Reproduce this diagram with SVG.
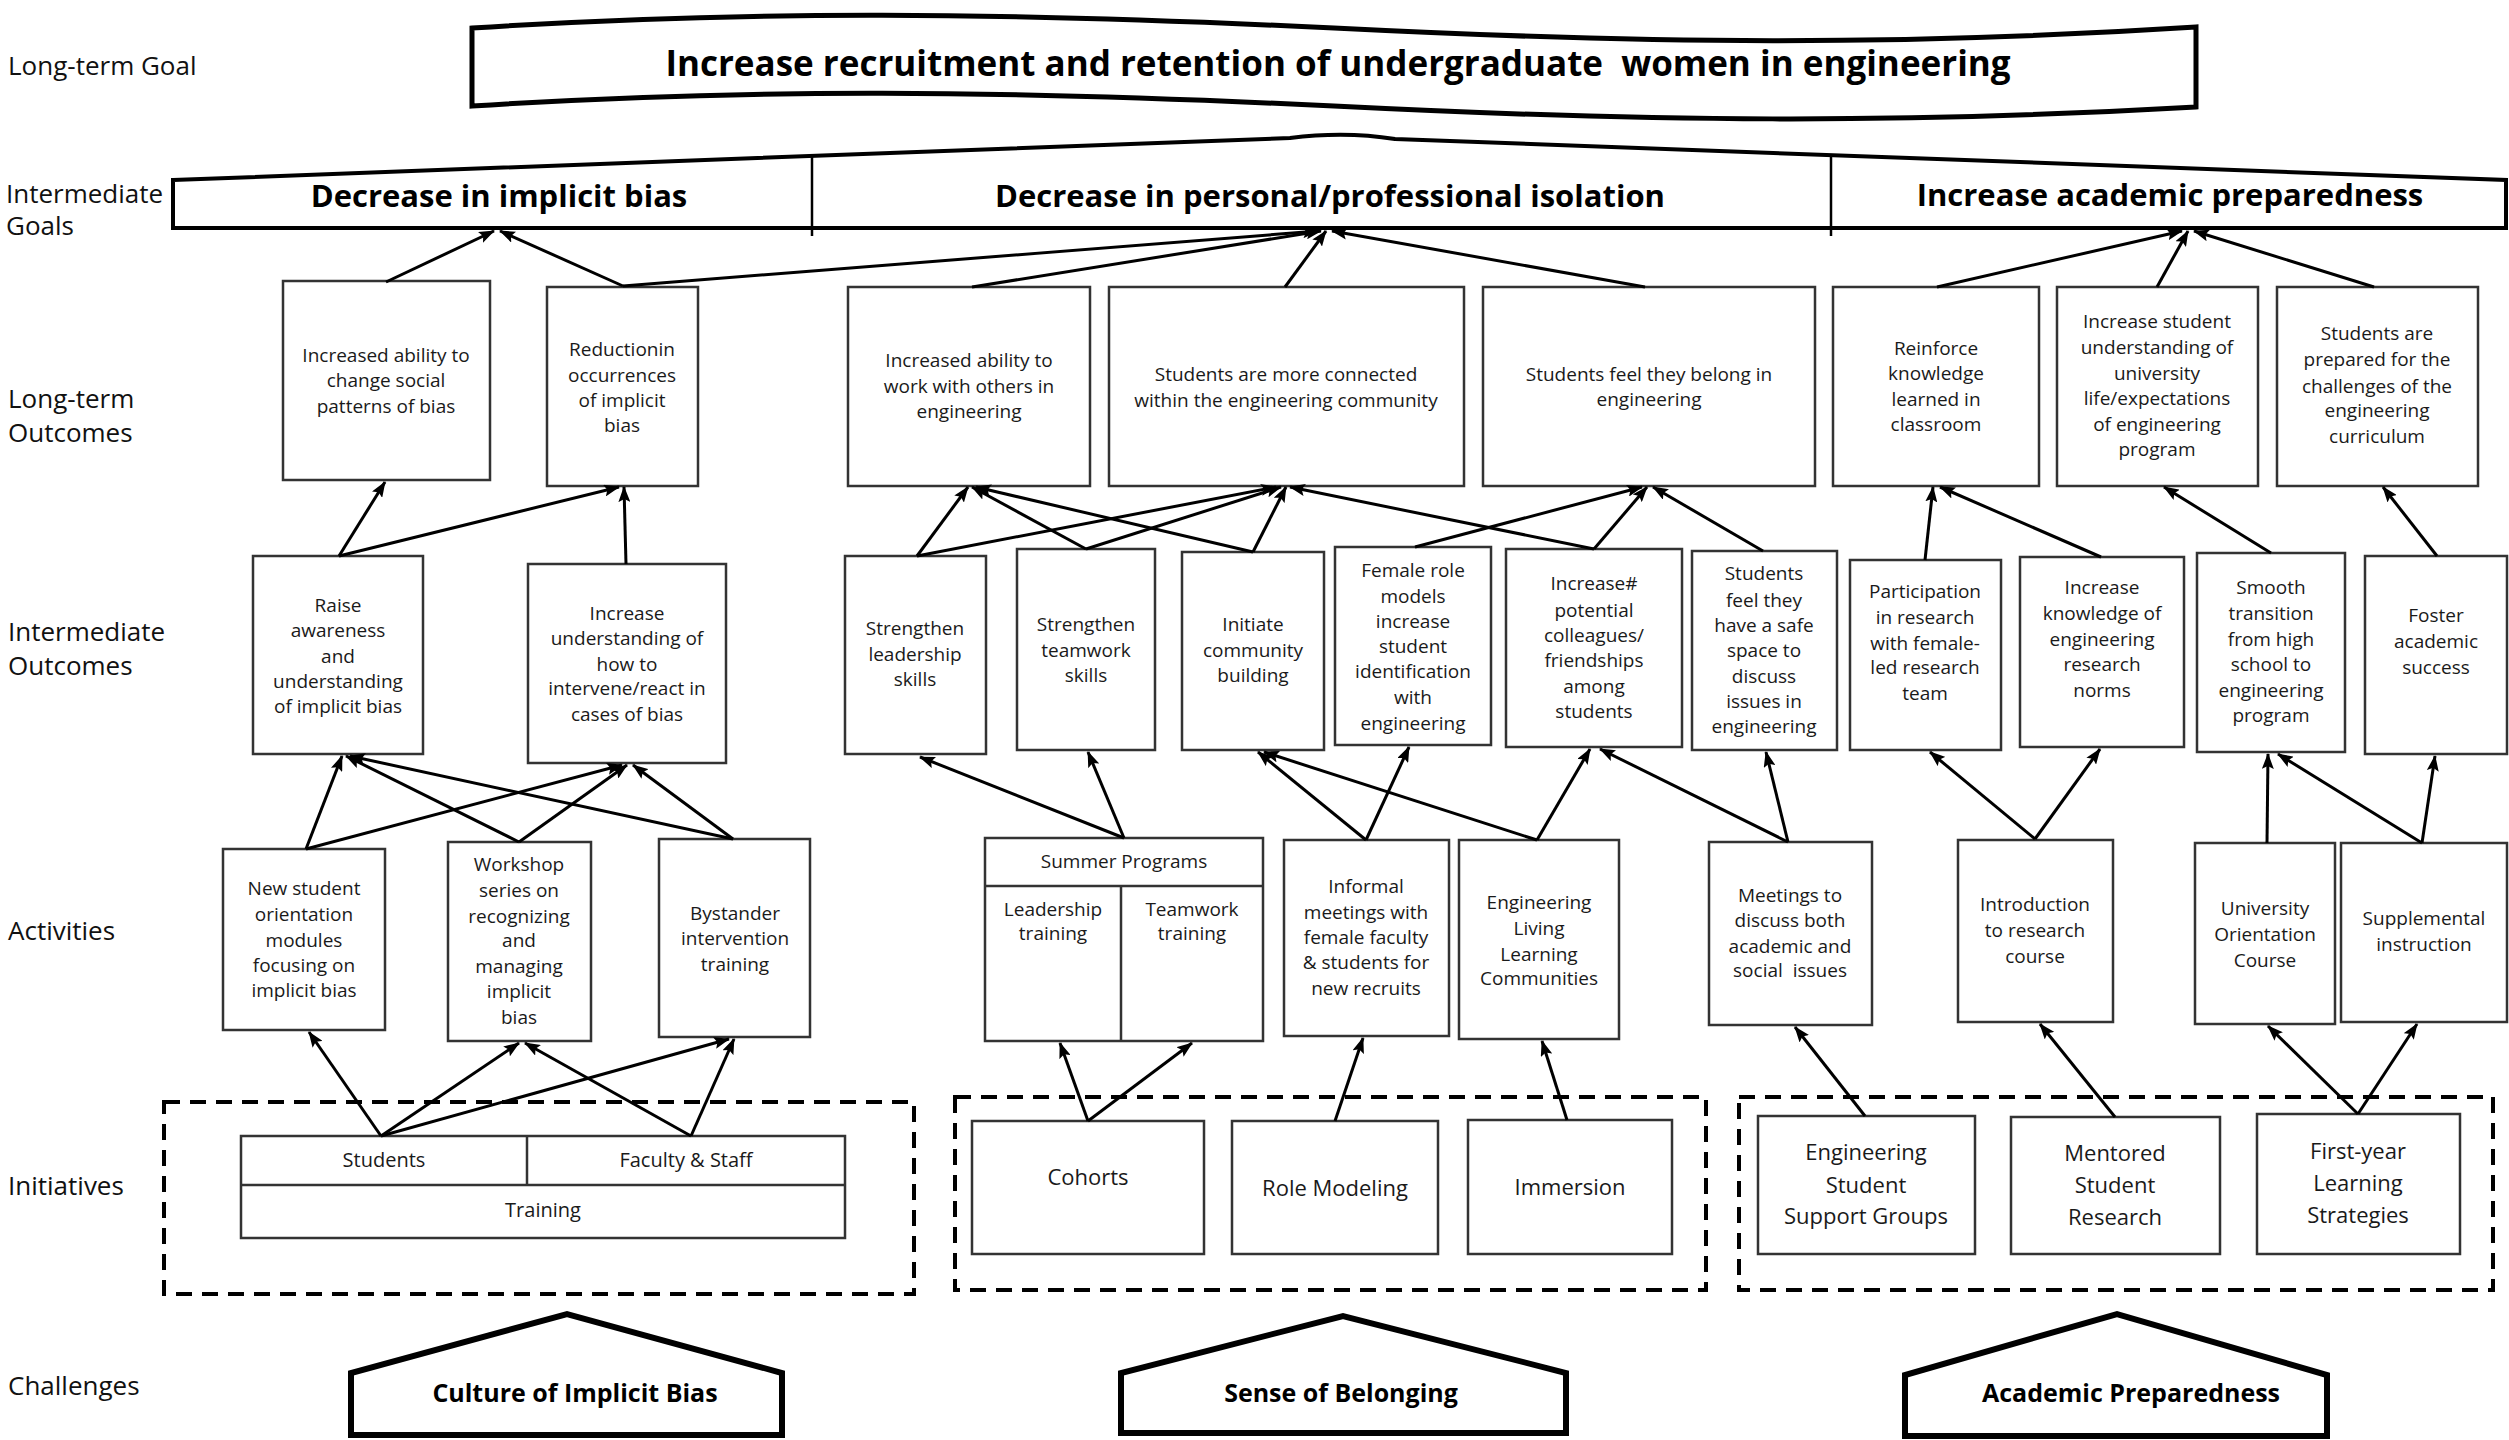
<svg xmlns="http://www.w3.org/2000/svg" width="2509" height="1440" viewBox="0 0 2509 1440">
<style>
text{font-family:'Open Sans','Liberation Sans',sans-serif;fill:#1a1a1a}
.t{font-size:19px;text-anchor:middle}
.i{font-size:22px;text-anchor:middle}
.s{font-size:20px;text-anchor:middle}
.lbl{font-size:26px;fill:#111}
.g{font-size:31px;font-weight:bold;text-anchor:middle;fill:#000}
.c{font-size:25px;font-weight:bold;text-anchor:middle;fill:#000}
.box{fill:#fff;stroke:#333;stroke-width:2.5}
.dash{fill:none;stroke:#000;stroke-width:4;stroke-dasharray:16 10}
.pent{fill:#fff;stroke:#000;stroke-width:6;stroke-linejoin:miter}
#connectors line{stroke:#000;stroke-width:3;marker-end:url(#arr)}
</style>
<defs>
<marker id="arr" viewBox="0 0 16 12" refX="15" refY="6" markerWidth="16" markerHeight="12" markerUnits="userSpaceOnUse" orient="auto"><path d="M0,0 L16,6 L0,12 L3,6 Z" fill="#000"/></marker>
</defs>
<rect width="2509" height="1440" fill="#fff"/>

<g id="row-labels">
<text class="lbl" x="8" y="75">Long-term Goal</text>
<text class="lbl" x="6" y="203">Intermediate</text>
<text class="lbl" x="6" y="235">Goals</text>
<text class="lbl" x="8" y="408">Long-term</text>
<text class="lbl" x="8" y="442">Outcomes</text>
<text class="lbl" x="8" y="641">Intermediate</text>
<text class="lbl" x="8" y="675">Outcomes</text>
<text class="lbl" x="8" y="940">Activities</text>
<text class="lbl" x="8" y="1195">Initiatives</text>
<text class="lbl" x="8" y="1395">Challenges</text>
</g>

<g id="long-term-goal">
<path d="M472,28 C750,10 1000,12 1334,28 C1650,44 1900,46 2196,27 L2196,107 C1900,124 1650,122 1334,106 C1000,90 750,88 472,106 Z" fill="#fff" stroke="#000" stroke-width="5"/>
<text x="1338" y="76" style="font-size:35px;font-weight:bold;text-anchor:middle;fill:#000">Increase recruitment and retention of undergraduate&#160; women in engineering</text>
</g>

<g id="intermediate-goals">
<path d="M173,180 L1290,138 Q1345,131 1395,139 L2506,180 L2506,228 L173,228 Z" fill="#fff" stroke="#000" stroke-width="4"/>
<line x1="812" y1="157" x2="812" y2="236" stroke="#000" stroke-width="2.5"/>
<line x1="1831" y1="155" x2="1831" y2="236" stroke="#000" stroke-width="2.5"/>
<text class="g" x="499" y="207">Decrease in implicit bias</text>
<text class="g" x="1330" y="207">Decrease in personal/professional isolation</text>
<text class="g" x="2170" y="206">Increase academic preparedness</text>
</g>

<g id="lt-A"><rect class="box" x="283" y="281" width="207" height="199"/><text class="t"><tspan x="386" y="362">Increased ability to</tspan><tspan x="386" y="387">change social</tspan><tspan x="386" y="413">patterns of bias</tspan></text></g>
<g id="lt-B"><rect class="box" x="547" y="287" width="151" height="199"/><text class="t"><tspan x="622" y="356">Reductionin</tspan><tspan x="622" y="382">occurrences</tspan><tspan x="622" y="407">of implicit</tspan><tspan x="622" y="432">bias</tspan></text></g>
<g id="lt-E"><rect class="box" x="848" y="287" width="242" height="199"/><text class="t"><tspan x="969" y="367">Increased ability to</tspan><tspan x="969" y="393">work with others in</tspan><tspan x="969" y="418">engineering</tspan></text></g>
<g id="lt-F"><rect class="box" x="1109" y="287" width="355" height="199"/><text class="t"><tspan x="1286" y="381">Students are more connected</tspan><tspan x="1286" y="407">within the engineering community</tspan></text></g>
<g id="lt-G"><rect class="box" x="1483" y="287" width="332" height="199"/><text class="t"><tspan x="1649" y="381">Students feel they belong in</tspan><tspan x="1649" y="406">engineering</tspan></text></g>
<g id="lt-H"><rect class="box" x="1833" y="287" width="206" height="199"/><text class="t"><tspan x="1936" y="355">Reinforce</tspan><tspan x="1936" y="380">knowledge</tspan><tspan x="1936" y="406">learned in</tspan><tspan x="1936" y="431">classroom</tspan></text></g>
<g id="lt-I"><rect class="box" x="2057" y="287" width="201" height="199"/><text class="t"><tspan x="2157" y="328">Increase student</tspan><tspan x="2157" y="354">understanding of</tspan><tspan x="2157" y="380">university</tspan><tspan x="2157" y="405">life/expectations</tspan><tspan x="2157" y="431">of engineering</tspan><tspan x="2157" y="456">program</tspan></text></g>
<g id="lt-J"><rect class="box" x="2277" y="287" width="201" height="199"/><text class="t"><tspan x="2377" y="340">Students are</tspan><tspan x="2377" y="366">prepared for the</tspan><tspan x="2377" y="393">challenges of the</tspan><tspan x="2377" y="417">engineering</tspan><tspan x="2377" y="443">curriculum</tspan></text></g>

<g id="io-C"><rect class="box" x="253" y="556" width="170" height="198"/><text class="t"><tspan x="338" y="612">Raise</tspan><tspan x="338" y="637">awareness</tspan><tspan x="338" y="663">and</tspan><tspan x="338" y="688">understanding</tspan><tspan x="338" y="713">of implicit bias</tspan></text></g>
<g id="io-D"><rect class="box" x="528" y="564" width="198" height="199"/><text class="t"><tspan x="627" y="620">Increase</tspan><tspan x="627" y="645">understanding of</tspan><tspan x="627" y="671">how to</tspan><tspan x="627" y="695">intervene/react in</tspan><tspan x="627" y="721">cases of bias</tspan></text></g>
<g id="io-K"><rect class="box" x="845" y="556" width="141" height="198"/><text class="t"><tspan x="915" y="635">Strengthen</tspan><tspan x="915" y="661">leadership</tspan><tspan x="915" y="686">skills</tspan></text></g>
<g id="io-L"><rect class="box" x="1017" y="549" width="138" height="201"/><text class="t"><tspan x="1086" y="631">Strengthen</tspan><tspan x="1086" y="657">teamwork</tspan><tspan x="1086" y="682">skills</tspan></text></g>
<g id="io-M"><rect class="box" x="1182" y="552" width="142" height="198"/><text class="t"><tspan x="1253" y="631">Initiate</tspan><tspan x="1253" y="657">community</tspan><tspan x="1253" y="682">building</tspan></text></g>
<g id="io-N"><rect class="box" x="1335" y="547" width="156" height="198"/><text class="t"><tspan x="1413" y="577">Female role</tspan><tspan x="1413" y="603">models</tspan><tspan x="1413" y="628">increase</tspan><tspan x="1413" y="653">student</tspan><tspan x="1413" y="678">identification</tspan><tspan x="1413" y="704">with</tspan><tspan x="1413" y="730">engineering</tspan></text></g>
<g id="io-O"><rect class="box" x="1506" y="549" width="176" height="198"/><text class="t"><tspan x="1594" y="590">Increase#</tspan><tspan x="1594" y="617">potential</tspan><tspan x="1594" y="642">colleagues/</tspan><tspan x="1594" y="667">friendships</tspan><tspan x="1594" y="693">among</tspan><tspan x="1594" y="718">students</tspan></text></g>
<g id="io-P"><rect class="box" x="1692" y="551" width="145" height="199"/><text class="t"><tspan x="1764" y="580">Students</tspan><tspan x="1764" y="607">feel they</tspan><tspan x="1764" y="632">have a safe</tspan><tspan x="1764" y="657">space to</tspan><tspan x="1764" y="683">discuss</tspan><tspan x="1764" y="708">issues in</tspan><tspan x="1764" y="733">engineering</tspan></text></g>
<g id="io-Q"><rect class="box" x="1850" y="560" width="151" height="190"/><text class="t"><tspan x="1925" y="598">Participation</tspan><tspan x="1925" y="624">in research</tspan><tspan x="1925" y="650">with female-</tspan><tspan x="1925" y="674">led research</tspan><tspan x="1925" y="700">team</tspan></text></g>
<g id="io-R"><rect class="box" x="2020" y="557" width="164" height="190"/><text class="t"><tspan x="2102" y="594">Increase</tspan><tspan x="2102" y="620">knowledge of</tspan><tspan x="2102" y="646">engineering</tspan><tspan x="2102" y="671">research</tspan><tspan x="2102" y="697">norms</tspan></text></g>
<g id="io-S"><rect class="box" x="2197" y="553" width="148" height="199"/><text class="t"><tspan x="2271" y="594">Smooth</tspan><tspan x="2271" y="620">transition</tspan><tspan x="2271" y="646">from high</tspan><tspan x="2271" y="671">school to</tspan><tspan x="2271" y="697">engineering</tspan><tspan x="2271" y="722">program</tspan></text></g>
<g id="io-T"><rect class="box" x="2365" y="556" width="142" height="198"/><text class="t"><tspan x="2436" y="622">Foster</tspan><tspan x="2436" y="648">academic</tspan><tspan x="2436" y="674">success</tspan></text></g>

<g id="act-U"><rect class="box" x="223" y="849" width="162" height="181"/><text class="t"><tspan x="304" y="895">New student</tspan><tspan x="304" y="921">orientation</tspan><tspan x="304" y="947">modules</tspan><tspan x="304" y="972">focusing on</tspan><tspan x="304" y="997">implicit bias</tspan></text></g>
<g id="act-V"><rect class="box" x="448" y="842" width="143" height="199"/><text class="t"><tspan x="519" y="871">Workshop</tspan><tspan x="519" y="897">series on</tspan><tspan x="519" y="923">recognizing</tspan><tspan x="519" y="947">and</tspan><tspan x="519" y="973">managing</tspan><tspan x="519" y="998">implicit</tspan><tspan x="519" y="1024">bias</tspan></text></g>
<g id="act-W"><rect class="box" x="659" y="839" width="151" height="198"/><text class="t"><tspan x="735" y="920">Bystander</tspan><tspan x="735" y="945">intervention</tspan><tspan x="735" y="971">training</tspan></text></g>
<g id="act-X"><rect class="box" x="985" y="838" width="278" height="203"/><line x1="985" y1="886" x2="1263" y2="886" stroke="#333" stroke-width="2.5"/><line x1="1121" y1="886" x2="1121" y2="1041" stroke="#333" stroke-width="2.5"/><text class="t" x="1124" y="868">Summer Programs</text><text class="t"><tspan x="1053" y="916">Leadership</tspan><tspan x="1053" y="940">training</tspan></text><text class="t"><tspan x="1192" y="916">Teamwork</tspan><tspan x="1192" y="940">training</tspan></text></g>
<g id="act-Y"><rect class="box" x="1284" y="840" width="165" height="196"/><text class="t"><tspan x="1366" y="893">Informal</tspan><tspan x="1366" y="919">meetings with</tspan><tspan x="1366" y="944">female faculty</tspan><tspan x="1366" y="969">&amp; students for</tspan><tspan x="1366" y="995">new recruits</tspan></text></g>
<g id="act-Z"><rect class="box" x="1459" y="840" width="160" height="199"/><text class="t"><tspan x="1539" y="909">Engineering</tspan><tspan x="1539" y="935">Living</tspan><tspan x="1539" y="961">Learning</tspan><tspan x="1539" y="985">Communities</tspan></text></g>
<g id="act-AA"><rect class="box" x="1709" y="842" width="163" height="183"/><text class="t"><tspan x="1790" y="902">Meetings to</tspan><tspan x="1790" y="927">discuss both</tspan><tspan x="1790" y="953">academic and</tspan><tspan x="1790" y="977">social&#160; issues</tspan></text></g>
<g id="act-AB"><rect class="box" x="1958" y="840" width="155" height="182"/><text class="t"><tspan x="2035" y="911">Introduction</tspan><tspan x="2035" y="937">to research</tspan><tspan x="2035" y="963">course</tspan></text></g>
<g id="act-AC"><rect class="box" x="2195" y="843" width="140" height="181"/><text class="t"><tspan x="2265" y="915">University</tspan><tspan x="2265" y="941">Orientation</tspan><tspan x="2265" y="967">Course</tspan></text></g>
<g id="act-AD"><rect class="box" x="2341" y="843" width="166" height="179"/><text class="t"><tspan x="2424" y="925">Supplemental</tspan><tspan x="2424" y="951">instruction</tspan></text></g>

<g id="init-bias">
<rect class="dash" x="164" y="1102" width="750" height="192"/>
<rect class="box" x="241" y="1136" width="604" height="102"/>
<line x1="241" y1="1185" x2="845" y2="1185" stroke="#333" stroke-width="2.5"/>
<line x1="527" y1="1136" x2="527" y2="1185" stroke="#333" stroke-width="2.5"/>
<text class="s" x="384" y="1167">Students</text>
<text class="s" x="686" y="1167">Faculty &amp; Staff</text>
<text class="s" x="543" y="1217">Training</text>
</g>
<g id="init-belonging">
<rect class="dash" x="955" y="1097" width="751" height="193"/>
<rect class="box" x="972" y="1121" width="232" height="133"/><text class="i" x="1088" y="1185">Cohorts</text>
<rect class="box" x="1232" y="1121" width="206" height="133"/><text class="i" x="1335" y="1196">Role Modeling</text>
<rect class="box" x="1468" y="1120" width="204" height="134"/><text class="i" x="1570" y="1195">Immersion</text>
</g>
<g id="init-academic">
<rect class="dash" x="1739" y="1097" width="754" height="193"/>
<rect class="box" x="1758" y="1116" width="217" height="138"/><text class="i"><tspan x="1866" y="1160">Engineering</tspan><tspan x="1866" y="1193">Student</tspan><tspan x="1866" y="1224">Support Groups</tspan></text>
<rect class="box" x="2011" y="1117" width="209" height="137"/><text class="i"><tspan x="2115" y="1161">Mentored</tspan><tspan x="2115" y="1193">Student</tspan><tspan x="2115" y="1225">Research</tspan></text>
<rect class="box" x="2257" y="1114" width="203" height="140"/><text class="i"><tspan x="2358" y="1159">First-year</tspan><tspan x="2358" y="1191">Learning</tspan><tspan x="2358" y="1223">Strategies</tspan></text>
</g>

<g id="challenge-bias"><path class="pent" d="M351,1435 V1373 L567,1314 L782,1373 V1435 Z"/><text class="c" x="575" y="1402">Culture of Implicit Bias</text></g>
<g id="challenge-belonging"><path class="pent" d="M1121,1433 V1373 L1343,1316 L1566,1373 V1433 Z"/><text class="c" x="1341" y="1402">Sense of Belonging</text></g>
<g id="challenge-academic"><path class="pent" d="M1905,1436 V1375 L2117,1314 L2327,1375 V1436 Z"/><text class="c" x="2131" y="1402">Academic Preparedness</text></g>

<g id="connectors">
<line x1="386" y1="282" x2="494" y2="231"/>
<line x1="623" y1="286" x2="500" y2="231"/>
<line x1="623" y1="286" x2="1318" y2="231"/>
<line x1="972" y1="287" x2="1321" y2="231"/>
<line x1="1285" y1="287" x2="1326" y2="231"/>
<line x1="1645" y1="287" x2="1332" y2="231"/>
<line x1="1937" y1="287" x2="2182" y2="231"/>
<line x1="2157" y1="287" x2="2188" y2="231"/>
<line x1="2374" y1="287" x2="2194" y2="231"/>

<line x1="339" y1="556" x2="385" y2="482"/>
<line x1="339" y1="556" x2="619" y2="487"/>
<line x1="626" y1="564" x2="624" y2="487"/>
<line x1="917" y1="556" x2="968" y2="487"/>
<line x1="917" y1="556" x2="1276" y2="487"/>
<line x1="1086" y1="549" x2="972" y2="487"/>
<line x1="1086" y1="549" x2="1281" y2="487"/>
<line x1="1253" y1="552" x2="976" y2="487"/>
<line x1="1253" y1="552" x2="1286" y2="487"/>
<line x1="1594" y1="549" x2="1290" y2="487"/>
<line x1="1415" y1="547" x2="1642" y2="487"/>
<line x1="1594" y1="549" x2="1647" y2="487"/>
<line x1="1763" y1="551" x2="1653" y2="487"/>
<line x1="1925" y1="560" x2="1933" y2="487"/>
<line x1="2101" y1="557" x2="1940" y2="487"/>
<line x1="2271" y1="553" x2="2164" y2="487"/>
<line x1="2437" y1="556" x2="2383" y2="487"/>

<line x1="306" y1="849" x2="342" y2="756"/>
<line x1="306" y1="849" x2="622" y2="765"/>
<line x1="519" y1="842" x2="346" y2="756"/>
<line x1="519" y1="842" x2="627" y2="765"/>
<line x1="733" y1="839" x2="350" y2="756"/>
<line x1="733" y1="839" x2="633" y2="765"/>
<line x1="1124" y1="838" x2="920" y2="757"/>
<line x1="1124" y1="838" x2="1088" y2="752"/>
<line x1="1366" y1="840" x2="1258" y2="752"/>
<line x1="1366" y1="840" x2="1409" y2="747"/>
<line x1="1537" y1="840" x2="1264" y2="752"/>
<line x1="1537" y1="840" x2="1590" y2="749"/>
<line x1="1788" y1="842" x2="1600" y2="749"/>
<line x1="1788" y1="842" x2="1766" y2="752"/>
<line x1="2035" y1="839" x2="1930" y2="752"/>
<line x1="2035" y1="839" x2="2100" y2="749"/>
<line x1="2267" y1="843" x2="2268" y2="754"/>
<line x1="2422" y1="843" x2="2278" y2="754"/>
<line x1="2422" y1="843" x2="2435" y2="756"/>

<line x1="381" y1="1136" x2="309" y2="1032"/>
<line x1="381" y1="1136" x2="519" y2="1043"/>
<line x1="381" y1="1136" x2="729" y2="1039"/>
<line x1="691" y1="1136" x2="525" y2="1043"/>
<line x1="691" y1="1136" x2="734" y2="1039"/>
<line x1="1088" y1="1121" x2="1060" y2="1043"/>
<line x1="1088" y1="1121" x2="1192" y2="1043"/>
<line x1="1335" y1="1121" x2="1363" y2="1038"/>
<line x1="1567" y1="1120" x2="1542" y2="1041"/>
<line x1="1865" y1="1116" x2="1795" y2="1027"/>
<line x1="2115" y1="1117" x2="2040" y2="1024"/>
<line x1="2358" y1="1114" x2="2268" y2="1026"/>
<line x1="2358" y1="1114" x2="2417" y2="1024"/>
</g>
</svg>
